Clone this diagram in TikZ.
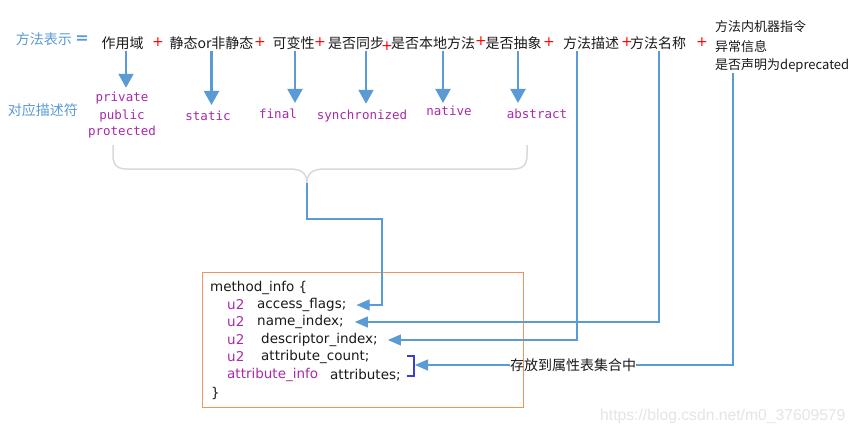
\documentclass[tikz,border=0pt]{standalone}
\usepackage{fontspec}
\setmainfont{DejaVu Sans}
\newfontfamily\cjkf{Noto Sans CJK SC}
\newfontfamily\monof{DejaVu Sans Mono}
\newfontfamily\codef{DejaVu Sans}
\newfontfamily\wmf{Liberation Sans}
\usetikzlibrary{arrows.meta}
\definecolor{lblue}{HTML}{5B9BD5}
\definecolor{purp}{HTML}{A82AAA}
\definecolor{boxor}{HTML}{EE955A}
\definecolor{brk}{HTML}{3C3CD8}
\definecolor{bracegray}{HTML}{D9D9D9}
\definecolor{txt}{HTML}{1A1A1A}
\begin{document}
\begin{tikzpicture}[x=1pt,y=-1pt,
  term/.style={font=\cjkf\fontsize{14}{16}\selectfont, text=txt, inner sep=1pt},
  plus/.style={font=\fontsize{14}{16}\selectfont, text=red, inner sep=0pt},
  bluelbl/.style={font=\cjkf\fontsize{14}{16}\selectfont, text=lblue, inner sep=1pt},
  side/.style={font=\cjkf\fontsize{13}{16}\selectfont, text=txt, anchor=west, inner sep=0pt},
  kw/.style={font=\monof\fontsize{12.5}{15}\selectfont, text=purp, inner sep=1pt},
  codet/.style={font=\codef\fontsize{13.5}{16}\selectfont, text=txt, anchor=west, inner sep=1pt},
  bigarrow/.style={draw=lblue, line width=2.2pt, -{Triangle[length=14pt,width=15pt]}},
  link/.style={draw=lblue, line width=1.1pt, -{Triangle[length=13pt,width=11pt]}},
  plainlink/.style={draw=lblue, line width=1.1pt}]
\useasboundingbox (0,0) rectangle (857,434);
\fill[white] (0,0) rectangle (857,434);

% top row
\node[bluelbl] (rep) at (44,39) {方法表示};
\node[font=\bfseries\fontsize{16}{16}\selectfont, text=lblue, inner sep=0pt] (eq) at (82,40) {=};
\node[term] (t1) at (122.5,43) {作用域};
\node[plus] (p1) at (158,42) {+};
\node[term] (t2) at (211.5,43) {静态or非静态};
\node[plus] (p2) at (260,42) {+};
\node[term] (t3) at (293.5,43) {可变性};
\node[plus] (p3) at (320,42) {+};
\node[term] (t4) at (356,43) {是否同步};
\node[plus] (p4) at (387,46) {+};
\node[term] (t5) at (433,43) {是否本地方法};
\node[plus] (p5) at (481,41) {+};
\node[term] (t6) at (513.5,43) {是否抽象};
\node[plus] (p6) at (549,42) {+};
\node[term] (t7) at (591,43) {方法描述};
\node[plus] (p7) at (627,42) {+};
\node[term] (t8) at (658,43) {方法名称};
\node[plus] (p8) at (702,42) {+};
\node[side] (r1) at (715,27) {方法内机器指令};
\node[side] (r2) at (715,47) {异常信息};
\node[side] (r3) at (715,66) {是否声明为deprecated};

% descriptor row
\node[bluelbl] (desclbl) at (43,110) {对应描述符};
\node[kw] (k1a) at (122,98) {private};
\node[kw] (k1b) at (122,116) {public};
\node[kw] (k1c) at (122,132) {protected};
\node[kw] (k2) at (208,116) {static};
\node[kw] (k3) at (278,114) {final};
\node[kw] (k4) at (362,116) {synchronized};
\node[kw] (k5) at (449,111) {native};
\node[kw] (k6) at (537,114) {abstract};

% big arrows
\draw[bigarrow, shorten >=3pt] ([xshift=3.5pt]t1.south) -- ([xshift=3.5pt]t1.south |- k1a.north);
\draw[bigarrow, shorten >=5pt] (t2.south) -- (t2.south |- k2.north);
\draw[bigarrow, shorten >=5pt] ([xshift=1.5pt]t3.south) -- ([xshift=1.5pt]t3.south |- k3.north);
\draw[bigarrow, shorten >=5pt] ([xshift=10pt]t4.south) -- ([xshift=10pt]t4.south |- k4.north);
\draw[bigarrow, shorten >=2pt] ([xshift=10pt]t5.south) -- ([xshift=10pt]t5.south |- k5.north);
\draw[bigarrow, shorten >=5pt] ([xshift=4.5pt]t6.south) -- ([xshift=4.5pt]t6.south |- k6.north);

% brace
\coordinate (bt) at (307,183);
\draw[bracegray, line width=1.5pt] (113,145) -- (113,155) .. controls (113,165) and (117,169) .. (127,169)
  -- (290,169) .. controls (302,169) and (307,174) .. (bt)
  .. controls (307,174) and (312,169) .. (324,169) -- (513,169)
  .. controls (523,169) and (527,165) .. (527,155) -- (527,145);

% code box
\draw[boxor, line width=1pt] (202,272) rectangle (523,407);
\node[codet] (mi) at (209,288) {method\_info \{};
\node[codet, text=purp] (u1) at (226,305) {u2};
\node[codet] (acc) at (256,305) {access\_flags;};
\node[codet, text=purp] (u2b) at (226,322) {u2};
\node[codet] (name) at (256,322) {name\_index;};
\node[codet, text=purp] (u3) at (226,340) {u2};
\node[codet] (desc) at (260,340) {descriptor\_index;};
\node[codet, text=purp] (u4) at (226,357) {u2};
\node[codet] (cnt) at (260,357) {attribute\_count;};
\node[codet, text=purp] (ai) at (226,375) {attribute\_info};
\node[codet] (attrs) at (329,375) {attributes;};
\node[codet] (cb) at (210,393) {\}};

% bracket
\draw[brk, line width=1.2pt] (407,356) -- (414,356) -- (414,376) -- (407,376);

% links
\coordinate (bk) at (382,219);
\draw[link] (bt) |- (bk) |- ([xshift=9pt]acc.east);
\draw[link] ([xshift=1pt]t8.south) |- ([xshift=10pt]name.east);
\draw[link] ([xshift=-14pt]t7.south) |- ([xshift=9pt]desc.east);
\node[term, inner sep=0pt] (store) at (573,365) {存放到属性表集合中};
\coordinate (brkc) at (415,365);
\draw[plainlink] ([xshift=18pt]r3.south west) |- (store.east);
\draw[link] (store.west) -- (brkc);

% watermark
\node[font=\wmf\fontsize{15.7}{17}\selectfont, text=black!10, anchor=west, inner sep=0pt] (wm) at (600,416) {https://blog.csdn.net/m0\_37609579};
\end{tikzpicture}
\end{document}
